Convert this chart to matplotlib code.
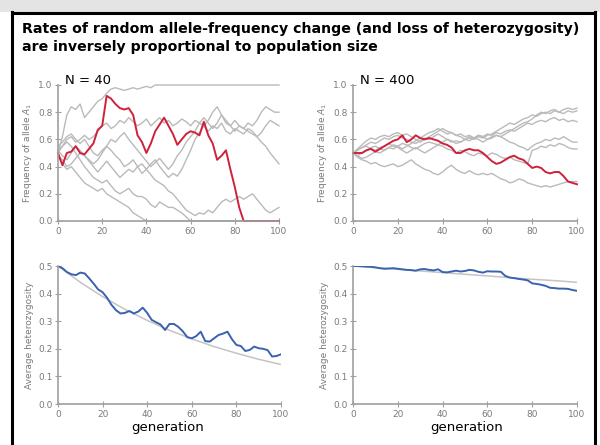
import matplotlib
matplotlib.use("Agg")
import matplotlib.pyplot as plt
from matplotlib.lines import Line2D
from matplotlib.patches import Rectangle

# generations (every 2) for the drift panels
gens = list(range(0, 101, 2))

# N = 40: highlighted replicate and grey replicates
red_40 = [0.50, 0.41, 0.50, 0.51, 0.55, 0.50, 0.49, 0.53, 0.57, 0.67, 0.70, 0.92, 0.90, 0.86, 0.83, 0.82, 0.83, 0.78,
          0.63, 0.58, 0.50, 0.57, 0.66, 0.71, 0.76, 0.70, 0.64, 0.56, 0.60, 0.64, 0.66, 0.65, 0.63, 0.73, 0.63, 0.57,
          0.45, 0.48, 0.52, 0.38, 0.25, 0.10, 0.0, 0.0, 0.0, 0.0, 0.0, 0.0, 0.0, 0.0, 0.0]
grey_40_a = [0.50, 0.62, 0.78, 0.84, 0.82, 0.86, 0.76, 0.80, 0.84, 0.88, 0.90, 0.94, 0.97, 0.98, 0.97, 0.96, 0.97, 0.98,
             0.97, 0.98, 0.99, 0.98, 1.0, 1.0, 1.0, 1.0, 1.0, 1.0, 1.0, 1.0, 1.0, 1.0, 1.0, 1.0, 1.0, 1.0, 1.0, 1.0,
             1.0, 1.0, 1.0, 1.0, 1.0, 1.0, 1.0, 1.0, 1.0, 1.0, 1.0, 1.0, 1.0]
grey_40_b = [0.50, 0.55, 0.60, 0.62, 0.58, 0.60, 0.63, 0.60, 0.62, 0.66, 0.70, 0.72, 0.68, 0.70, 0.74, 0.72, 0.76, 0.73,
             0.70, 0.72, 0.75, 0.70, 0.73, 0.76, 0.72, 0.74, 0.70, 0.72, 0.75, 0.73, 0.70, 0.74, 0.72, 0.76, 0.72, 0.68,
             0.72, 0.78, 0.74, 0.70, 0.66, 0.70, 0.68, 0.66, 0.64, 0.62, 0.58, 0.55, 0.50, 0.46, 0.42]
grey_40_c = [0.52, 0.48, 0.45, 0.50, 0.55, 0.52, 0.48, 0.45, 0.42, 0.45, 0.50, 0.55, 0.52, 0.48, 0.45, 0.40, 0.42, 0.45,
             0.40, 0.35, 0.38, 0.42, 0.45, 0.40, 0.36, 0.32, 0.35, 0.33, 0.38, 0.45, 0.52, 0.60, 0.65, 0.70, 0.74, 0.80,
             0.84, 0.78, 0.72, 0.70, 0.74, 0.70, 0.68, 0.72, 0.70, 0.74, 0.80, 0.84, 0.82, 0.80, 0.80]
grey_40_d = [0.55, 0.58, 0.62, 0.64, 0.60, 0.57, 0.60, 0.55, 0.50, 0.48, 0.52, 0.55, 0.60, 0.58, 0.62, 0.65, 0.60, 0.56,
             0.52, 0.48, 0.44, 0.40, 0.43, 0.46, 0.42, 0.38, 0.42, 0.48, 0.52, 0.58, 0.62, 0.66, 0.72, 0.70, 0.66, 0.70,
             0.68, 0.72, 0.66, 0.64, 0.68, 0.66, 0.64, 0.68, 0.66, 0.62, 0.65, 0.70, 0.74, 0.72, 0.70]
grey_40_e = [0.48, 0.45, 0.40, 0.42, 0.46, 0.50, 0.48, 0.44, 0.40, 0.36, 0.40, 0.44, 0.40, 0.36, 0.32, 0.35, 0.38, 0.36,
             0.40, 0.42, 0.38, 0.34, 0.30, 0.28, 0.26, 0.22, 0.20, 0.16, 0.12, 0.08, 0.06, 0.04, 0.06, 0.05, 0.08, 0.06,
             0.10, 0.14, 0.16, 0.14, 0.16, 0.18, 0.16, 0.18, 0.20, 0.16, 0.12, 0.08, 0.06, 0.08, 0.10]
grey_40_f = [0.48, 0.42, 0.38, 0.40, 0.36, 0.32, 0.28, 0.26, 0.24, 0.22, 0.24, 0.20, 0.18, 0.16, 0.14, 0.12, 0.10, 0.06,
             0.04, 0.02, 0.0, 0.0, 0.0, 0.0, 0.0, 0.0, 0.0, 0.0, 0.0, 0.0, 0.0, 0.0, 0.0, 0.0, 0.0, 0.0, 0.0, 0.0,
             0.0, 0.0, 0.0, 0.0, 0.0, 0.0, 0.0, 0.0, 0.0, 0.0, 0.0, 0.0, 0.0]
grey_40_g = [0.52, 0.55, 0.58, 0.55, 0.50, 0.45, 0.40, 0.36, 0.32, 0.30, 0.28, 0.30, 0.26, 0.22, 0.20, 0.22, 0.24, 0.20,
             0.18, 0.18, 0.16, 0.12, 0.10, 0.14, 0.12, 0.10, 0.10, 0.08, 0.06, 0.03, 0.0, 0.0, 0.0, 0.0, 0.0, 0.0,
             0.0, 0.0, 0.0, 0.0, 0.0, 0.0, 0.0, 0.0, 0.0, 0.0, 0.0, 0.0, 0.0, 0.0, 0.0]

# N = 400
red_400 = [0.50, 0.50, 0.50, 0.52, 0.53, 0.51, 0.53, 0.55, 0.57, 0.59, 0.60, 0.63, 0.58, 0.60, 0.63, 0.61, 0.60, 0.61,
           0.60, 0.59, 0.57, 0.56, 0.54, 0.50, 0.50, 0.52, 0.53, 0.52, 0.52, 0.50, 0.47, 0.44, 0.42, 0.43, 0.45, 0.47,
           0.48, 0.46, 0.45, 0.42, 0.39, 0.40, 0.39, 0.36, 0.35, 0.36, 0.36, 0.33, 0.29, 0.28, 0.27]
grey_400_a = [0.50, 0.52, 0.54, 0.56, 0.58, 0.57, 0.59, 0.61, 0.60, 0.62, 0.63, 0.61, 0.60, 0.58, 0.57, 0.59, 0.61, 0.60,
              0.62, 0.64, 0.62, 0.60, 0.58, 0.59, 0.58, 0.60, 0.61, 0.60, 0.62, 0.61, 0.63, 0.64, 0.66, 0.68, 0.70, 0.72,
              0.71, 0.73, 0.75, 0.76, 0.78, 0.77, 0.79, 0.80, 0.79, 0.81, 0.80, 0.82, 0.83, 0.82, 0.83]
grey_400_b = [0.50, 0.53, 0.56, 0.59, 0.61, 0.60, 0.62, 0.63, 0.62, 0.64, 0.65, 0.63, 0.64, 0.62, 0.60, 0.58, 0.60, 0.62,
              0.64, 0.66, 0.68, 0.66, 0.65, 0.63, 0.62, 0.60, 0.59, 0.61, 0.60, 0.58, 0.60, 0.62, 0.63, 0.62, 0.64, 0.66,
              0.68, 0.70, 0.72, 0.73, 0.75, 0.78, 0.80, 0.79, 0.81, 0.82, 0.80, 0.79, 0.81, 0.80, 0.81]
grey_400_c = [0.50, 0.48, 0.50, 0.52, 0.54, 0.55, 0.53, 0.52, 0.54, 0.56, 0.55, 0.53, 0.55, 0.57, 0.59, 0.61, 0.63, 0.65,
              0.66, 0.68, 0.66, 0.64, 0.65, 0.63, 0.64, 0.62, 0.63, 0.61, 0.63, 0.62, 0.64, 0.63, 0.65, 0.64, 0.66, 0.67,
              0.66, 0.68, 0.70, 0.72, 0.71, 0.73, 0.74, 0.73, 0.75, 0.76, 0.74, 0.75, 0.73, 0.74, 0.73]
grey_400_d = [0.50, 0.48, 0.46, 0.47, 0.49, 0.51, 0.50, 0.52, 0.54, 0.53, 0.55, 0.57, 0.56, 0.54, 0.53, 0.55, 0.57, 0.58,
              0.57, 0.56, 0.58, 0.60, 0.59, 0.57, 0.58, 0.60, 0.62, 0.61, 0.63, 0.62, 0.60, 0.61, 0.63, 0.62, 0.60, 0.58,
              0.57, 0.55, 0.54, 0.52, 0.55, 0.57, 0.58, 0.60, 0.59, 0.61, 0.60, 0.62, 0.60, 0.58, 0.58]
grey_400_e = [0.50, 0.52, 0.54, 0.55, 0.53, 0.52, 0.54, 0.55, 0.57, 0.55, 0.54, 0.52, 0.50, 0.52, 0.54, 0.52, 0.50, 0.52,
              0.54, 0.56, 0.55, 0.53, 0.52, 0.50, 0.52, 0.51, 0.49, 0.48, 0.50, 0.49, 0.48, 0.50, 0.49, 0.47, 0.46, 0.47,
              0.45, 0.44, 0.43, 0.42, 0.52, 0.53, 0.55, 0.54, 0.56, 0.55, 0.57, 0.56, 0.54, 0.53, 0.53]
grey_400_f = [0.50, 0.47, 0.45, 0.44, 0.42, 0.43, 0.41, 0.40, 0.41, 0.42, 0.40, 0.41, 0.43, 0.45, 0.42, 0.40, 0.38, 0.37,
              0.35, 0.34, 0.36, 0.39, 0.41, 0.38, 0.36, 0.35, 0.37, 0.35, 0.34, 0.35, 0.34, 0.35, 0.33, 0.31, 0.30, 0.28,
              0.29, 0.31, 0.30, 0.28, 0.27, 0.26, 0.25, 0.26, 0.25, 0.26, 0.27, 0.28, 0.29, 0.29, 0.29]

# average heterozygosity
het_40 = [0.500, 0.492, 0.478, 0.470, 0.467, 0.476, 0.473, 0.455, 0.436, 0.415, 0.405, 0.385, 0.359, 0.340, 0.328,
          0.330, 0.337, 0.328, 0.335, 0.349, 0.330, 0.305, 0.296, 0.288, 0.268, 0.290, 0.290, 0.279, 0.263, 0.242,
          0.238, 0.246, 0.262, 0.228, 0.226, 0.238, 0.250, 0.255, 0.262, 0.235, 0.214, 0.210, 0.192, 0.196, 0.208,
          0.202, 0.200, 0.195, 0.172, 0.174, 0.180]
het_400 = [0.500, 0.500, 0.499, 0.498, 0.497, 0.495, 0.492, 0.490, 0.491, 0.492, 0.490, 0.488, 0.486, 0.485, 0.483,
           0.488, 0.489, 0.486, 0.484, 0.488, 0.478, 0.477, 0.480, 0.483, 0.480, 0.482, 0.486, 0.484, 0.479, 0.476,
           0.481, 0.480, 0.480, 0.479, 0.464, 0.458, 0.456, 0.453, 0.451, 0.448, 0.437, 0.435, 0.432, 0.428, 0.421,
           0.420, 0.418, 0.418, 0.417, 0.413, 0.410]
exp_gens = [0, 10, 20, 30, 40, 50, 60, 70, 80, 90, 100]
exp_40 = [0.500, 0.441, 0.389, 0.343, 0.303, 0.267, 0.236, 0.208, 0.184, 0.162, 0.143]
exp_400 = [0.500, 0.494, 0.488, 0.482, 0.476, 0.470, 0.464, 0.458, 0.452, 0.447, 0.441]

grey_40 = [grey_40_a, grey_40_b, grey_40_c, grey_40_d, grey_40_e, grey_40_f, grey_40_g]
grey_400 = [grey_400_a, grey_400_b, grey_400_c, grey_400_d, grey_400_e, grey_400_f]

W, H = 600, 445
fig = plt.figure(figsize=(6, 4.45), dpi=100)
fig.patch.set_facecolor("white")


def px_axes(x0, y_top, x1, y_bot):
    return fig.add_axes([x0 / W, 1 - y_bot / H, (x1 - x0) / W, (y_bot - y_top) / H])


def style(ax, ylim, yticks, ylabel):
    ax.set_xlim(0, 100)
    ax.set_ylim(*ylim)
    ax.set_xticks([0, 20, 40, 60, 80, 100])
    ax.set_yticks(yticks)
    ax.set_yticklabels([f"{t:.1f}" for t in yticks])
    for s in ["top", "right"]:
        ax.spines[s].set_visible(False)
    for s in ["left", "bottom"]:
        ax.spines[s].set_color("#a0a0a0")
        ax.spines[s].set_linewidth(1.2)
    ax.tick_params(direction="inout", length=4, width=0.8, color="#a0a0a0",
                   labelcolor="#7a7a7a", labelsize=6.5, pad=2)
    ax.set_ylabel(ylabel, fontsize=6.5, color="#7a7a7a", labelpad=3)
    ax.patch.set_alpha(0)


grey_c = "#bababa"
red_c = "#d0213c"
blue_c = "#3b62b0"

# top-left: N = 40
ax1 = px_axes(58, 85, 279, 221)
for g in grey_40:
    ax1.plot(gens, g, color=grey_c, lw=1.0, clip_on=False)
ax1.plot(gens, red_40, color=red_c, lw=1.4, clip_on=False)
style(ax1, (0, 1), [0.0, 0.2, 0.4, 0.6, 0.8, 1.0], "Frequency of allele $A_1$")

# top-right: N = 400
ax2 = px_axes(353, 85, 577, 221)
for g in grey_400:
    ax2.plot(gens, g, color=grey_c, lw=1.0, clip_on=False)
ax2.plot(gens, red_400, color=red_c, lw=1.4, clip_on=False)
style(ax2, (0, 1), [0.0, 0.2, 0.4, 0.6, 0.8, 1.0], "Frequency of allele $A_1$")

# bottom-left
ax3 = px_axes(58, 266, 281, 404)
ax3.plot(exp_gens, exp_40, color="#c4c4c4", lw=1.1)
ax3.plot(gens, het_40, color=blue_c, lw=1.4)
style(ax3, (0, 0.5), [0.0, 0.1, 0.2, 0.3, 0.4, 0.5], "Average heterozygosity")

# bottom-right
ax4 = px_axes(353, 266, 577, 404)
ax4.plot(exp_gens, exp_400, color="#c4c4c4", lw=1.1)
ax4.plot(gens, het_400, color=blue_c, lw=1.4)
style(ax4, (0, 0.5), [0.0, 0.1, 0.2, 0.3, 0.4, 0.5], "Average heterozygosity")

# texts
fig.text(22 / W, 1 - 29 / H, "Rates of random allele-frequency change (and loss of heterozygosity)",
         fontsize=10.2, fontweight="bold", va="center", ha="left")
fig.text(22 / W, 1 - 47 / H, "are inversely proportional to population size",
         fontsize=10.2, fontweight="bold", va="center", ha="left")
fig.text(65 / W, 1 - 80 / H, "N = 40", fontsize=9.5, va="center", ha="left")
fig.text(360 / W, 1 - 80 / H, "N = 400", fontsize=9.5, va="center", ha="left")
fig.text(168 / W, 1 - 427 / H, "generation", fontsize=9.5, va="center", ha="center")
fig.text(467 / W, 1 - 427 / H, "generation", fontsize=9.5, va="center", ha="center")

# slide frame
fig.add_artist(Rectangle((0, 1 - 12 / H), 1, 12 / H, transform=fig.transFigure,
                         facecolor="#e4e4e4", edgecolor="none"))
fig.add_artist(Line2D([12 / W, 12 / W], [0, 1 - 12 / H], transform=fig.transFigure, color="black", lw=2.2))
fig.add_artist(Line2D([595 / W, 595 / W], [0, 1 - 12 / H], transform=fig.transFigure, color="black", lw=2.2))
fig.add_artist(Line2D([12 / W, 595 / W], [1 - 13 / H, 1 - 13 / H], transform=fig.transFigure, color="black", lw=2.2))

fig.savefig("out.png", dpi=100)
